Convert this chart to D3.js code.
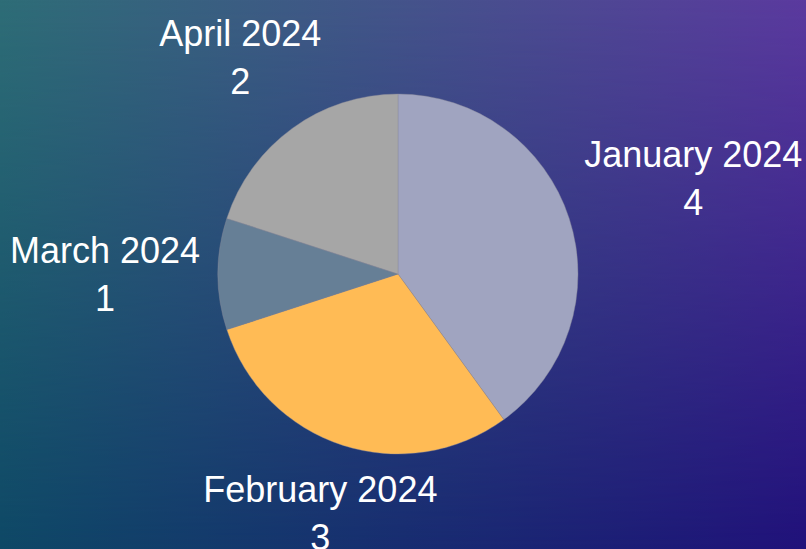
<!DOCTYPE html>
<html>
<head>
<meta charset="utf-8">
<script src="https://cdn.jsdelivr.net/npm/d3@7"></script>
<style>
  html, body { margin: 0; padding: 0; overflow: hidden; }
  svg { display: block; }
</style>
</head>
<body>
<div id="chart"></div>
<script>
// Data
let months = ["January 2024", "February 2024", "March 2024", "April 2024"];
let counts = [4, 3, 1, 2];
let sliceColors = ["#a0a4c0", "#ffbb55", "#667f96", "#a6a6a6"];

let width = 806;
let height = 549;
let cx = 398, cy = 274;
let radius = 180;
let labelGap = 198;   // distance from centre before the label box starts
let lineGap = 48;

let svg = d3.select("#chart").append("svg")
  .attr("width", width)
  .attr("height", height);

// Background: bilinear blend of four corner colours
let defs = svg.append("defs");
let topGrad = defs.append("linearGradient").attr("id", "bgTop")
  .attr("x1", 0).attr("y1", 0).attr("x2", 1).attr("y2", 0);
topGrad.append("stop").attr("offset", "0%").attr("stop-color", "#2e6d77");
topGrad.append("stop").attr("offset", "100%").attr("stop-color", "#5b3a9f");

let botGrad = defs.append("linearGradient").attr("id", "bgBot")
  .attr("x1", 0).attr("y1", 0).attr("x2", 1).attr("y2", 0);
botGrad.append("stop").attr("offset", "0%").attr("stop-color", "#0e4866");
botGrad.append("stop").attr("offset", "100%").attr("stop-color", "#20117a");

let fadeGrad = defs.append("linearGradient").attr("id", "bgFade")
  .attr("x1", 0).attr("y1", 0).attr("x2", 0).attr("y2", 1);
fadeGrad.append("stop").attr("offset", "0%").attr("stop-color", "white").attr("stop-opacity", 0);
fadeGrad.append("stop").attr("offset", "100%").attr("stop-color", "white").attr("stop-opacity", 1);

defs.append("mask").attr("id", "bgMask")
  .append("rect").attr("width", width).attr("height", height).attr("fill", "url(#bgFade)");

svg.append("rect").attr("width", width).attr("height", height).attr("fill", "url(#bgTop)");
svg.append("rect").attr("width", width).attr("height", height)
  .attr("fill", "url(#bgBot)").attr("mask", "url(#bgMask)");

// Pie
let pie = d3.pie().sort(null).value(d => d.count);
let arc = d3.arc().innerRadius(0).outerRadius(radius);

let data = months.map((m, i) => ({ month: m, count: counts[i], color: sliceColors[i] }));
let arcs = pie(data);

let g = svg.append("g").attr("transform", `translate(${cx},${cy})`);

g.selectAll("path")
  .data(arcs)
  .enter()
  .append("path")
  .attr("d", arc)
  .attr("fill", d => d.data.color)
  .attr("stroke", "#8a8a9a")
  .attr("stroke-width", 0.4);

// Labels: two centred lines, pushed out along the slice's middle angle
let labels = g.selectAll("g.label")
  .data(arcs)
  .enter()
  .append("g")
  .attr("class", "label");

labels.append("text")
  .attr("text-anchor", "middle")
  .attr("dominant-baseline", "central")
  .attr("fill", "white")
  .attr("font-family", "'Liberation Sans', Arial, Helvetica, sans-serif")
  .attr("font-size", 36)
  .selectAll("tspan")
  .data(d => [d.data.month, d.data.count])
  .enter()
  .append("tspan")
  .attr("x", 0)
  .attr("y", (d, i) => (i - 0.5) * lineGap)
  .text(d => d);

labels.attr("transform", function (d) {
  let a = (d.startAngle + d.endAngle) / 2;
  let s = Math.sin(a), c = -Math.cos(a);
  let hw = this.getBBox().width / 2;
  let k = c < 0 ? 28 : 18;
  let r = labelGap + hw * Math.abs(s) + k * Math.abs(c);
  return `translate(${r * s},${r * c})`;
});
</script>
</body>
</html>
